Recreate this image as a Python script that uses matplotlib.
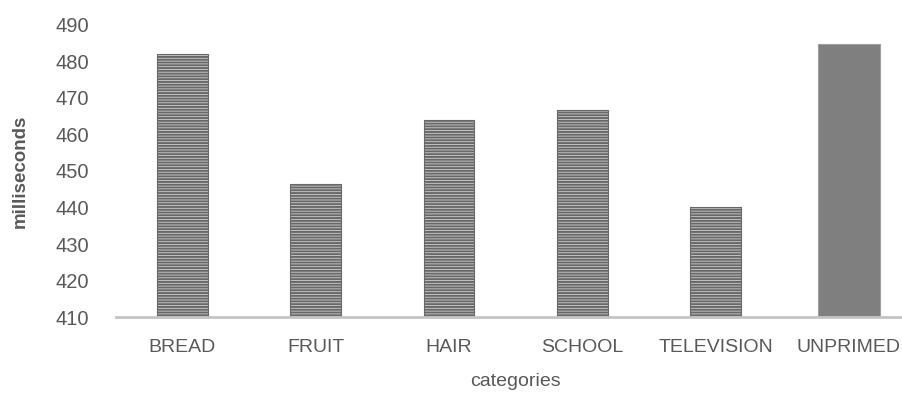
import matplotlib.pyplot as plt
import numpy as np

categories = ["BREAD", "FRUIT", "HAIR", "SCHOOL", "TELEVISION", "UNPRIMED"]
values = [482, 446.5, 464, 466.8, 440.2, 484.8]
yticks = [410, 420, 430, 440, 450, 460, 470, 480, 490]

plt.rcParams['font.family'] = ['Liberation Sans Narrow', 'Liberation Sans', 'DejaVu Sans']
plt.rcParams['hatch.linewidth'] = 1.4

fig = plt.figure(figsize=(9.03, 3.94), dpi=100)
ax = fig.add_axes([0.128, 0.195, 0.886, 0.742])

x = np.arange(len(categories))
base = 410
for i, (c, v) in enumerate(zip(categories, values)):
    if c == "UNPRIMED":
        ax.bar(x[i], v - base, bottom=base, width=0.47, color="#7f7f7f",
               edgecolor="#a0a0a0", linewidth=0.8, zorder=2)
    else:
        ax.bar(x[i], v - base, bottom=base, width=0.38, color="#d0d0d0",
               edgecolor="#686868", hatch="------", linewidth=0.8, zorder=2)

ax.set_xlim(-0.5, 5.5)
ax.set_ylim(410, 490)
ax.set_yticks(yticks)
ax.set_xticks(x)
ax.set_xticklabels(categories)
ax.tick_params(axis="x", length=0, colors="#595959", labelsize=14, pad=16)
ax.tick_params(axis="y", length=0, colors="#595959", labelsize=14.5, pad=19)

for s in ["top", "right", "left"]:
    ax.spines[s].set_visible(False)
ax.spines["bottom"].set_color("#c4c4c4")
ax.spines["bottom"].set_linewidth(2)
ax.spines["bottom"].set_zorder(3)

ax.set_ylabel("milliseconds", fontsize=13.5, fontweight="bold", color="#595959", labelpad=19)
ax.set_xlabel("categories", fontsize=14, color="#595959", labelpad=12)

fig.savefig("out.png", dpi=100)
